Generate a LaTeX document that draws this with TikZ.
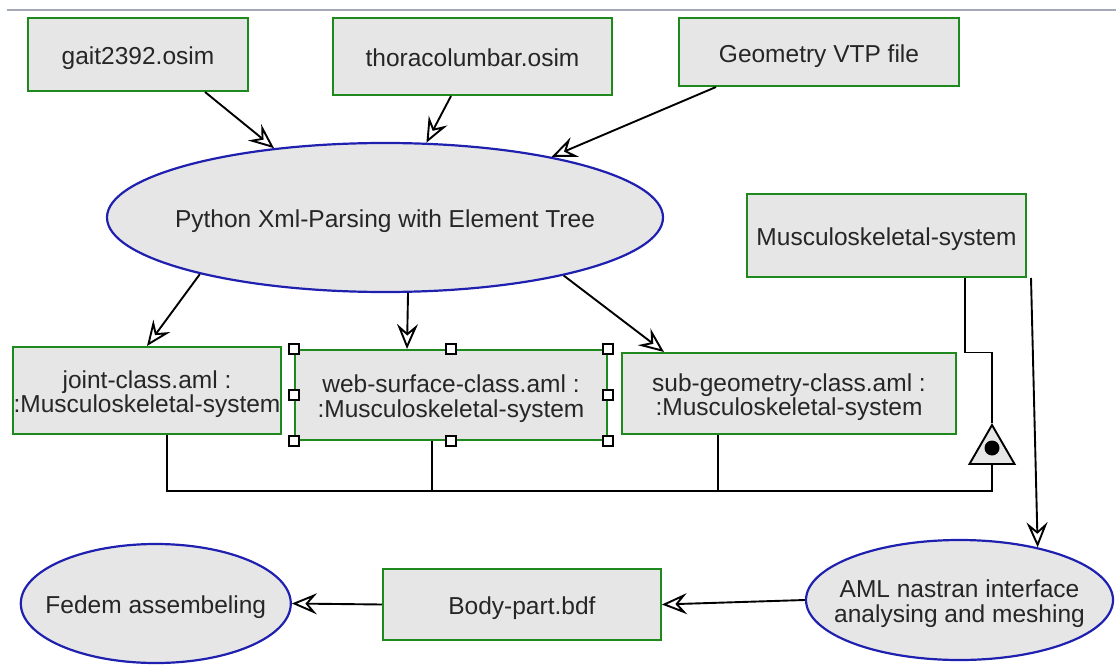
\documentclass[tikz,border=0pt]{standalone}
\usepackage{fontspec}
\setmainfont{Liberation Sans}
\usetikzlibrary{shapes.geometric, arrows.meta, positioning}
\definecolor{boxgreen}{HTML}{1E8A1E}
\definecolor{ovalblue}{HTML}{2020B0}
\definecolor{panelgray}{HTML}{E6E6E6}
\definecolor{rulegray}{HTML}{A4A8B8}
% text block of no size, centred on the node centre
\newcommand{\ctext}[2][-11pt]{\makebox[0pt]{\raisebox{#1}[0pt][0pt]{\begin{tabular}{@{}c@{}}#2\end{tabular}}}}

\begin{document}
\begin{tikzpicture}[
  x=1pt, y=-1pt,
  font=\fontsize{24.5}{22}\selectfont,
  filebox/.style={draw=boxgreen, fill=panelgray, line width=2pt, inner sep=0pt, text=black!85},
  procnode/.style={ellipse, draw=ovalblue, fill=panelgray, line width=2.2pt, inner sep=0pt, text=black!85},
  handle/.style={draw, fill=white, line width=1.2pt, minimum size=10pt, inner sep=0pt},
  link/.style={line width=1.9pt},
  arr/.style={link, -{Stealth[open, length=25pt, width=21pt, inset=9pt]}},
]
  \useasboundingbox (0,0) rectangle (1116,666);
  \draw[rulegray, line width=1.5pt] (7,10) -- (1116,10);

  % input files
  \node[filebox, minimum width=220pt, minimum height=73pt] (gait) at (138,54.5) {\ctext{gait2392.osim}};
  \node[filebox, minimum width=279pt, minimum height=77pt, right=83pt of gait, yshift=-2pt] (thorax) {\ctext{thoracolumbar.osim}};
  \node[filebox, minimum width=280pt, minimum height=68pt, right=65pt of thorax, yshift=4.5pt] (vtp) {\ctext{Geometry VTP file}};

  \node[procnode, minimum width=556pt, minimum height=149pt] (parser) at (385,217.5) {\ctext{Python Xml-Parsing with Element Tree}};
  \node[filebox, minimum width=279pt, minimum height=83pt] (musc) at (886.5,235.5) {\ctext{Musculoskeletal-system}};

  % aml classes
  \node[filebox, minimum width=268pt, minimum height=87pt] (joint) at (147,390.5) {\ctext[-10.5pt]{joint-class.aml :\\:Musculoskeletal-system}};
  \node[filebox, minimum width=312pt, minimum height=90pt, right=12pt of joint, yshift=-4.5pt] (web) {\ctext[-10.5pt]{web-surface-class.aml :\\:Musculoskeletal-system}};
  \node[filebox, minimum width=334pt, minimum height=81pt, right=13pt of web, yshift=1.5pt] (subgeo) {\ctext[-10.5pt]{sub-geometry-class.aml :\\:Musculoskeletal-system}};
  \foreach \a [count=\i] in {north west, north, north east, west, east, south west, south, south east}
    \node[handle] (grip\i) at (web.\a) {};

  % meshing and assembly
  \node[procnode, minimum width=307pt, minimum height=120pt] (aml) at (959.5,600) {\ctext[-10.5pt]{AML nastran interface\\analysing and meshing}};
  \node[filebox, minimum width=278pt, minimum height=71pt, left=143pt of aml, yshift=-4.5pt] (bdf) {\ctext{Body-part.bdf}};
  \node[procnode, minimum width=270pt, minimum height=119pt, left=90pt of bdf, yshift=1pt] (fedem) {\ctext{Fedem assembeling}};

  % aggregation symbol
  \node[regular polygon, regular polygon sides=3, draw, fill=panelgray, line width=1.9pt, minimum size=52pt, inner sep=0pt] (agg) at (992,451) {};
  \node[circle, fill=black, minimum size=15pt, inner sep=0pt] (aggdot) at ([yshift=3pt]agg.center) {};

  \draw[arr] ([xshift=67pt]gait.south) -- (parser.148);
  \draw[arr] ([xshift=-21.5pt]thorax.south) -- (parser.61);
  \draw[arr] ([xshift=-103pt]vtp.south) -- (parser.20);
  \draw[arr] (parser.197) -- (joint.north);
  \draw[arr] (parser.287) -- ([xshift=-44pt]web.north);
  \draw[arr] (parser.342) -- ([xshift=-125pt]subgeo.north);
  \draw[arr] ([xshift=4pt]musc.south east) -- (aml.34);
  \draw[arr] (aml.west) -- (bdf.east);
  \draw[arr] (bdf.west) -- (fedem.east);

  \draw[link] ([xshift=20pt]joint.south) -- ++(0,56) -| (agg.south);
  \draw[link] ([xshift=-19pt]web.south) -- ++(0,50);
  \draw[link] ([xshift=-71pt]subgeo.south) -- ++(0,56);
  \draw[link] ([xshift=78.5pt]musc.south) -- ++(0,74.5) -| (agg.north);
\end{tikzpicture}
\end{document}
